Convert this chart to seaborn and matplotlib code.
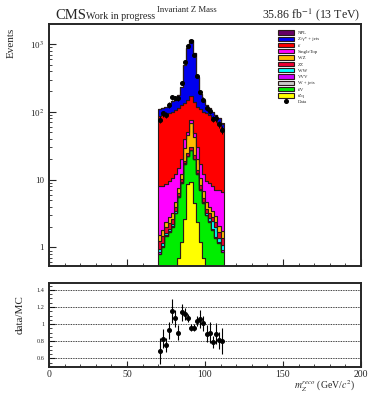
# 不变质量 m_Z 的堆叠直方图（对数坐标）+ data/MC 比值图
# 数值均从参考图读出（估计值）

import numpy as np
import pandas as pd
import seaborn as sns
import matplotlib.pyplot as plt
from matplotlib.patches import Patch
from matplotlib.lines import Line2D
from matplotlib.ticker import FixedLocator, FixedFormatter, MultipleLocator, LogLocator, NullFormatter

# ---- 数据 ----
bin_edges = [70, 72, 74, 76, 78, 80, 82, 84, 86, 88, 90, 92, 94, 96, 98, 100,
             102, 104, 106, 108, 110, 112]
bin_centers = [71, 73, 75, 77, 79, 81, 83, 85, 87, 89, 91, 93, 95, 97, 99, 101,
               103, 105, 107, 109, 111]

# 图例顺序 = 堆叠从上到下（用普通文字，避免 mathtext 让行高不一致）
processes = ['NPL', 'Z/γ* + jets', 'tt\u0304', 'SingleTop', 'WZ', 'ZZ',
             'WW', 'VVV', 'W + jets', 'tt\u0304V', 'tZq']
colors = ['#660066', '#0000ee', '#ff0000', '#ff00ff', '#ffbb00', '#ee0033',
          '#00ffff', '#cc00ff', '#cccccc', '#00ee00', '#ffff00']

npl = [0.5] * 21
zjets = [23, 24, 26, 40, 42, 42, 62, 110, 355, 720, 980, 590, 210, 76, 50, 31, 23, 15, 12, 12, 8.5]
ttbar = [80, 82, 84, 86, 90, 96, 100, 105, 95, 100, 94, 92, 90, 93, 88, 86, 81, 77, 71, 61, 52]
single_top = [6.5, 6.2, 6.1, 6.7, 7.3, 7.3, 7.4, 7.7, 11, 5.1, 7.6, 5.1, 10, 6.5, 5.3, 4.9, 5.1, 4.6, 4.1, 4.9, 4.8]
wz = [0.3, 0.35, 0.4, 0.5, 0.6, 0.8, 1.2, 2.0, 10, 20, 38, 20, 6, 2.2, 1.3, 0.9, 0.7, 0.6, 0.5, 0.4, 0.35]
zz = [0.3, 0.3, 0.35, 0.4, 0.4, 0.5, 0.7, 1.0, 1.8, 2.5, 3.0, 2.5, 1.5, 1.0, 0.7, 0.5, 0.45, 0.4, 0.35, 0.3, 0.3]
ww = [0.1, 0.1, 0.15, 0.15, 0.15, 0.2, 0.2, 0.25, 0.3, 0.35, 0.4, 0.35, 0.3, 0.25, 0.2, 0.2, 0.3, 0.6, 0.6, 0.2, 0.15]
vvv = [0.05] * 21
wjets = [0.0] * 21
ttv = [0.8, 1.0, 1.45, 1.7, 2.0, 3.2, 4.8, 7.8, 14.4, 13.5, 17.7, 15.5, 9.6, 5.8, 3.8, 3.0, 2.4, 1.8, 1.37, 1.15, 0.87]
tzq = [0, 0, 0, 0, 0, 0, 0.7, 1.2, 2.6, 8.5, 9.3, 4.5, 2.4, 1.2, 0.7, 0, 0, 0, 0, 0, 0]

yields = [npl, zjets, ttbar, single_top, wz, zz, ww, vvv, wjets, ttv, tzq]

ratio = [0.69, 0.83, 0.76, 0.93, 1.15, 1.07, 0.90, 1.14, 1.12, 1.07, 0.96, 0.96, 1.04, 1.06,
         1.01, 0.89, 0.90, 0.79, 0.89, 0.81, 0.80]
ratio_err = [0.15, 0.11, 0.08, 0.10, 0.14, 0.10, 0.09, 0.10, 0.07, 0.05, 0.04, 0.04, 0.06, 0.10,
             0.09, 0.10, 0.12, 0.07, 0.12, 0.10, 0.15]

yticks_top = [1, 10, 100, 1000]
yticklabels_top = ['1', '10', '10$^{2}$', '10$^{3}$']
yticks_ratio = [0.6, 0.8, 1.0, 1.2, 1.4]
yticklabels_ratio = ['0.6', '0.8', '1', '1.2', '1.4']
xticks = [0, 50, 100, 150, 200]


def build_df():
    """
    长表：每个过程每个bin一行，权重即事例数
    """
    rows = []
    for name, vals in zip(processes, yields):
        for c, v in zip(bin_centers, vals):
            rows.append({'mass': c, 'w': v, 'process': name})
    return pd.DataFrame(rows)


def draw_top(ax, df):
    mc_total = np.sum(np.array(yields), axis=0)
    data = np.array(ratio) * mc_total

    # seaborn 堆叠时 hue_order 里最后一个在最底层
    sns.histplot(data=df, x='mass', weights='w', hue='process', hue_order=processes,
                 palette=colors, multiple='stack', bins=bin_edges, element='step',
                 alpha=1, edgecolor='#2a1a1a', linewidth=0.8, legend=False, ax=ax)
    ax.errorbar(bin_centers, data, yerr=np.sqrt(data), fmt='o', color='black',
                ms=2.6, elinewidth=0.7, capsize=0, zorder=5)

    ax.set_yscale('log')
    ax.set_xlim(0, 200)
    ax.set_ylim(0.53, 1970)
    ax.set_xlabel('')
    ax.set_ylabel('')
    ax.yaxis.set_major_locator(FixedLocator(yticks_top))
    ax.yaxis.set_major_formatter(FixedFormatter(yticklabels_top))
    ax.yaxis.set_minor_locator(LogLocator(base=10, subs=np.arange(2, 10)))
    ax.yaxis.set_minor_formatter(NullFormatter())
    ax.xaxis.set_major_locator(MultipleLocator(50))
    ax.xaxis.set_minor_locator(MultipleLocator(10))
    ax.tick_params(axis='x', labelbottom=False)
    ax.tick_params(which='both', direction='in', labelsize=6.5)
    ax.tick_params(which='major', length=5, width=0.8)
    ax.tick_params(which='minor', length=2.5, width=0.6)
    for s in ax.spines.values():
        s.set_linewidth(1.4)
        s.set_visible(True)

    handles = [Patch(facecolor=c, edgecolor='#2a1a1a', linewidth=0.8) for c in colors]
    handles.append(Line2D([], [], marker='o', color='black', ls='none', ms=2.6))
    ax.legend(handles, processes + ['Data'], loc='upper left', bbox_to_anchor=(0.725, 0.985),
              frameon=False, fontsize=3.5, handlelength=3.4, handleheight=1.0,
              labelspacing=0.3, handletextpad=0.8, borderpad=0)


def draw_ratio(ax):
    for y in yticks_ratio:
        ax.axhline(y, color='black', lw=0.6, ls=(0, (1, 1)), zorder=1)
    ax.errorbar(bin_centers, ratio, yerr=ratio_err, fmt='o', color='black',
                ms=2.6, elinewidth=0.8, capsize=0, zorder=3)
    ax.set_xlim(0, 200)
    ax.set_ylim(0.5, 1.48)
    ax.yaxis.set_major_locator(FixedLocator(yticks_ratio))
    ax.yaxis.set_major_formatter(FixedFormatter(yticklabels_ratio))
    ax.yaxis.set_minor_locator(MultipleLocator(0.05))
    ax.xaxis.set_major_locator(FixedLocator(xticks))
    ax.xaxis.set_minor_locator(MultipleLocator(10))
    ax.tick_params(which='both', direction='in')
    ax.tick_params(axis='y', labelsize=4.5)
    ax.tick_params(axis='x', labelsize=7, pad=2.5)
    ax.tick_params(which='major', length=4, width=0.8)
    ax.tick_params(which='minor', length=2, width=0.6)
    for s in ax.spines.values():
        s.set_linewidth(1.4)
        s.set_visible(True)


if __name__ == '__main__':
    sns.set_style('ticks')
    plt.rcParams['font.family'] = ['Liberation Serif', 'DejaVu Serif']
    plt.rcParams['mathtext.fontset'] = 'stix'

    fig = plt.figure(figsize=(3.72, 3.96), dpi=100)
    ax_top = fig.add_axes([0.1317, 0.328, 0.8387, 0.611])
    ax_rat = fig.add_axes([0.1317, 0.0732, 0.8387, 0.212])

    draw_top(ax_top, build_df())
    draw_ratio(ax_rat)

    fig.text(0.148, 0.953, 'CMS', fontsize=10.5)
    fig.text(0.232, 0.953, 'Work in progress', fontsize=7.2)
    fig.text(0.422, 0.970, 'Invariant Z Mass', fontsize=6.3)
    fig.text(0.970, 0.953, '35.86 fb$^{-1}$ (13 TeV)', fontsize=8.6, ha='right')
    fig.text(0.030, 0.93, 'Events', fontsize=8, rotation=90, ha='center', va='top')
    fig.text(0.055, 0.205, 'data/MC', fontsize=8, rotation=90, ha='center', va='center')
    fig.text(0.955, 0.018, '$m_{Z}^{reco}$ (GeV/$c^{2}$)', fontsize=7, ha='right', va='baseline')

    plt.savefig('out.png', dpi=100)
